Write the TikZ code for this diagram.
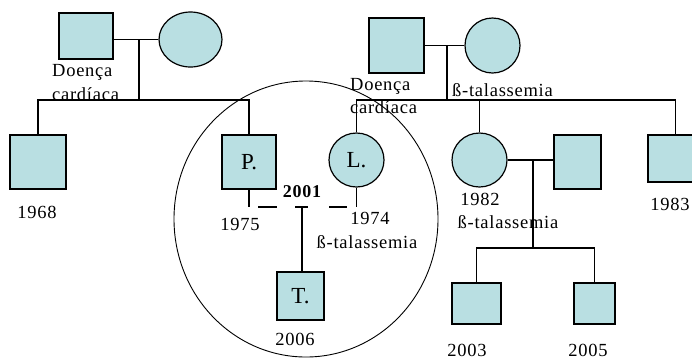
\documentclass[tikz,border=0pt]{standalone}
\usepackage{fontspec}
\setmainfont{Liberation Serif}
\newfontfamily\spacedserif{Liberation Serif}[LetterSpace=4]
\usetikzlibrary{shapes.geometric}
\definecolor{pedfill}{RGB}{185,223,226}
\begin{document}
\begin{tikzpicture}[x=1pt,y=-1pt,
  person/.style={draw=black, fill=pedfill, line width=1.2pt, inner sep=0pt,
                 font=\fontsize{23}{25}\selectfont},
  male/.style={person, rectangle},
  female/.style={person, ellipse},
  link/.style={line width=1.2pt},
  ring/.style={draw=black, line width=0.9pt, ellipse, inner sep=0pt},
  lbl/.style={font=\spacedserif\fontsize{18.5}{20}\selectfont, inner sep=0pt},
  yr/.style={lbl, anchor=base},
  yrb/.style={font=\spacedserif\fontsize{18}{20}\selectfont\bfseries, inner sep=0pt, anchor=base},
  note/.style={lbl, anchor=base west}
]
\useasboundingbox (0,0) rectangle (692,360);
\clip (0,0) rectangle (692,360);

% nuclear family ring
\node[ring, minimum width=264pt, minimum height=276pt] (ring) at (306,219) {};

% grandparents
\node[male, minimum width=54pt, minimum height=46pt] (gf1) at (86,36) {};
\node[female, minimum width=63pt, minimum height=55pt] (gm1) at (190.5,39.5) {};
\node[male, minimum width=55pt, minimum height=55pt] (gf2) at (396.5,45.5) {};
\node[female, minimum width=55pt, minimum height=55pt] (gm2) at (492.5,45.5) {};

% second generation
\node[male, minimum width=56pt, minimum height=54pt] (u1968) at (38,162) {};
\node[male, minimum width=54pt, minimum height=54pt] (P) at (249,162) {P.};
\node[female, minimum width=55pt, minimum height=54pt] (L) at (356.5,160) {L.};
\node[female, minimum width=55pt, minimum height=54pt] (s1982) at (479.5,160) {};
\node[male, minimum width=47pt, minimum height=54pt] (sp1982) at (577.5,162) {};
\node[male, minimum width=55pt, minimum height=47pt] (u1983) at (675.5,158.5) {};

% third generation
\node[male, minimum width=47pt, minimum height=48pt] (T) at (300.5,296) {T.};
\node[male, minimum width=49pt, minimum height=41pt] (c2003) at (476.5,303.5) {};
\node[male, minimum width=41pt, minimum height=41pt] (c2005) at (594.5,303.5) {};

% line anchors
\coordinate (sib1) at (139,100);
\coordinate (sib2) at (447,100);
\coordinate (mPL) at (302,207);
\coordinate (sib3) at (533,248);

% left grandparents and their children
\draw[link] (gm1.west) -- (gm1.west -| gf1.east);
\draw[link] (gm1.west -| sib1) -- (sib1);
\draw[link] (u1968.north) -- (u1968.north |- sib1) -- (P.north |- sib1) -- (P.north);

% right grandparents and their children
\draw[link] (gm2.west) -- (gm2.west -| gf2.east);
\draw[link] (gm2.west -| sib2) -- (sib2);
\draw[link] (L.north) -- (L.north |- sib2) -- (u1983.north |- sib2) -- (u1983.north);
\draw[link] (s1982.north) -- (s1982.north |- sib2);

% P. and L.
\draw[link] (P.south) -- (P.south |- mPL);
\draw[link] (L.south) -- (L.south |- mPL);
\draw[link, dash pattern=on 0pt off 9pt on 19pt off 18pt on 13pt off 21pt on 18pt off 20pt]
  (P.south |- mPL) -- (L.south |- mPL);
\draw[link] (mPL) -- (mPL |- T.north);

% 1982 couple and children
\draw[link] (s1982.east) -- (sp1982.west |- s1982.east);
\draw[link] (s1982.east -| sib3) -- (sib3);
\draw[link] (c2003.north) -- (c2003.north |- sib3) -- (c2005.north |- sib3) -- (c2005.north);

% notes
\node[note] (d1a) at (52,76) {Doença};
\node[note] (d1b) at (52,100) {cardíaca};
\node[note] (d2a) at (350,90) {Doença};
\node[note] (d2b) at (350,113) {cardíaca};
\node[note] (b1) at (452,96) {ß-talassemia};
\node[yr] (b2) at (367,248) {ß-talassemia};
\node[yr] (b3) at (508,228) {ß-talassemia};

% years
\node[yr] (y1968) at (37,218) {1968};
\node[yr] (y1975) at (240,230) {1975};
\node[yr] (y1974) at (370,224) {1974};
\node[yrb] (y2001) at (302,197) {2001};
\node[yr] (y2006) at (295,345) {2006};
\node[yr] (y1982) at (480,205) {1982};
\node[yr] (y1983) at (670,210) {1983};
\node[yr] (y2003) at (467,356) {2003};
\node[yr] (y2005) at (588,356) {2005};
\end{tikzpicture}
\end{document}
